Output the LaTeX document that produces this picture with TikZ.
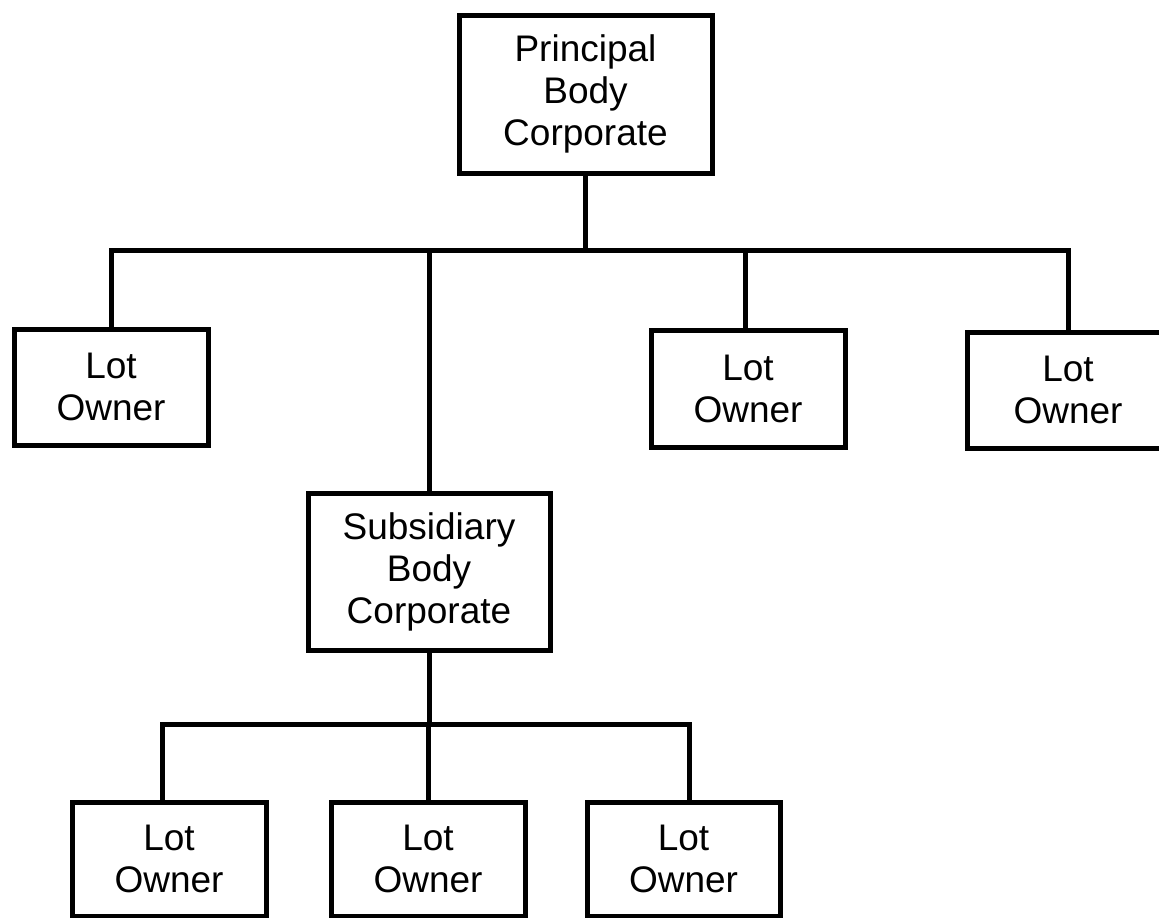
\documentclass[tikz,border=0pt]{standalone}
\usepackage{fontspec}
\setmainfont{Liberation Sans}
\begin{document}
\begin{tikzpicture}[x=1pt,y=-1pt,
  orgbox/.style={draw, line width=5pt, align=center, inner sep=0pt,
    font=\fontsize{37}{42}\selectfont},
  link/.style={line width=5pt, line join=miter}]
\useasboundingbox (0,0) rectangle (1159,918);
\clip (0,0) rectangle (1159,918);

% top level
\node[orgbox, minimum width=253pt, minimum height=158pt] (P) at (585.5,94) {Principal\\Body\\Corporate};

% second level
\node[orgbox, minimum width=194pt, minimum height=116pt] (L1) at (111,387) {Lot\\Owner};
\node[orgbox, minimum width=194pt, minimum height=117pt] (L2) at (748,388.5) {Lot\\Owner};
\node[orgbox, minimum width=202pt, minimum height=116pt] (L3) at (1068,390) {Lot\\Owner};
\node[orgbox, minimum width=242pt, minimum height=157pt] (S) at (429,571.5) {Subsidiary\\Body\\Corporate};

% third level
\node[orgbox, minimum width=194pt, minimum height=114pt] (B1) at (169,859) {Lot\\Owner};
\node[orgbox, minimum width=194pt, minimum height=114pt] (B2) at (428,859) {Lot\\Owner};
\node[orgbox, minimum width=193pt, minimum height=114pt] (B3) at (683.5,859) {Lot\\Owner};

% junctions on the two bars
\coordinate (j1) at (585.5,250);
\coordinate (j2) at (429,724);

% connectors
\draw[link] (P.south) -- (j1);
\draw[link] (L1.north) |- (j1) -| (L3.north);
\draw[link] ([xshift=-3pt]L2.north) -- ([xshift=-3pt]L2.north |- j1);
\draw[link] (S.north) -- (S.north |- j1);

\draw[link] (S.south) -- (j2);
\draw[link] ([xshift=-7pt]B1.north) |- (j2) -| ([xshift=6pt]B3.north);
\draw[link] (B2.north) -- (B2.north |- j2);
\end{tikzpicture}
\end{document}
